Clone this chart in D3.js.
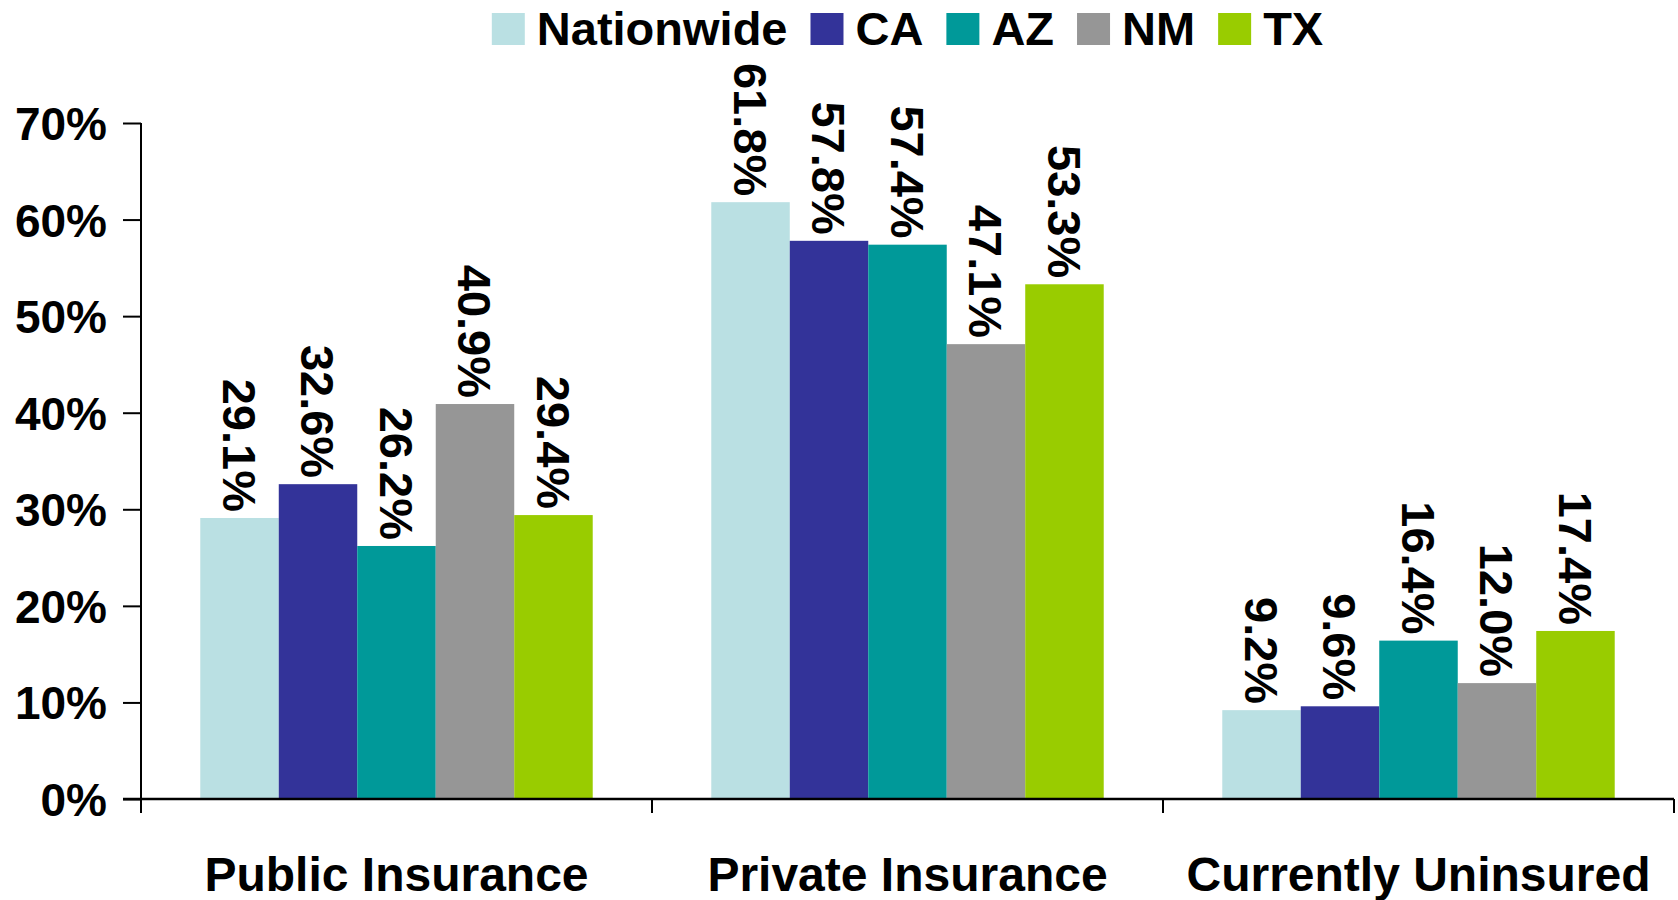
<!DOCTYPE html>
<html>
<head>
<meta charset="utf-8">
<script src="https://cdn.jsdelivr.net/npm/d3@7"></script>
<style>
  body { margin: 0; background: #fff; }
  text { font-family: "Liberation Sans", Arial, sans-serif; font-weight: bold; fill: #000; }
</style>
</head>
<body>
<svg id="chart" width="1678" height="900"></svg>
<script>
// data
const categories = ["Public Insurance", "Private Insurance", "Currently Uninsured"];
const seriesNames = ["Nationwide", "CA", "AZ", "NM", "TX"];
const seriesColors = ["#bae0e3", "#333399", "#009999", "#969696", "#99cc00"];
const nationwide = [29.1, 61.8, 9.2];
const ca = [32.6, 57.8, 9.6];
const az = [26.2, 57.4, 16.4];
const nm = [40.9, 47.1, 12.0];
const tx = [29.4, 53.3, 17.4];
const yTicks = [0, 10, 20, 30, 40, 50, 60, 70];

const seriesValues = [nationwide, ca, az, nm, tx];

const svg = d3.select('#chart');
const plotLeft = 141, plotRight = 1674, plotTop = 123, plotBottom = 799;

const x0 = d3.scaleBand()
    .domain(categories)
    .range([plotLeft, plotRight])
    .padding(0);
const bw = x0.bandwidth();
const x1 = d3.scaleBand()
    .domain(seriesNames)
    .range([bw * 0.116, bw * 0.884])
    .padding(0);
const y = d3.scaleLinear()
    .domain([0, 70])
    .range([plotBottom, plotTop]);

// bars
const groups = svg.selectAll('g.cat')
    .data(categories)
    .join('g')
    .attr('class', 'cat')
    .attr('transform', d => `translate(${x0(d)},0)`);

groups.each(function(cat, ci) {
    const g = d3.select(this);
    const rows = seriesNames.map((s, si) => ({ s, v: seriesValues[si][ci], c: seriesColors[si] }));
    g.selectAll('rect')
        .data(rows)
        .join('rect')
        .attr('x', d => x1(d.s))
        .attr('y', d => y(d.v))
        .attr('width', x1.bandwidth())
        .attr('height', d => y(0) - y(d.v))
        .attr('fill', d => d.c);
    g.selectAll('text.val')
        .data(rows)
        .join('text')
        .attr('class', 'val')
        .attr('transform', d => `translate(${x1(d.s) + x1.bandwidth() / 2},${y(d.v) - 6}) rotate(90)`)
        .attr('text-anchor', 'end')
        .attr('dy', '0.36em')
        .style('font-size', '47px')
        .text(d => d.v.toFixed(1) + '%');
});

// y axis
const yAxis = svg.append('g')
    .attr('transform', `translate(${plotLeft},0)`)
    .call(d3.axisLeft(y).tickValues(yTicks).tickFormat(d => d + '%').tickSize(18).tickSizeOuter(0).tickPadding(16));
yAxis.select('.domain').remove();
yAxis.selectAll('.tick line').attr('stroke', '#000').attr('stroke-width', 2);
yAxis.selectAll('.tick text')
    .style('font-size', '46px')
    .style('font-family', '"Liberation Sans", Arial, sans-serif')
    .style('font-weight', 'bold')
    .attr('fill', '#000')
    .attr('dy', '0.36em');
svg.append('line')
    .attr('x1', plotLeft).attr('x2', plotLeft)
    .attr('y1', plotTop).attr('y2', plotBottom + 14)
    .attr('stroke', '#000').attr('stroke-width', 2);

// x axis
svg.append('line')
    .attr('x1', plotLeft - 18).attr('x2', plotRight)
    .attr('y1', plotBottom).attr('y2', plotBottom)
    .attr('stroke', '#000').attr('stroke-width', 2.5);
svg.selectAll('line.sep')
    .data(categories)
    .join('line')
    .attr('class', 'sep')
    .attr('x1', d => x0(d) + bw).attr('x2', d => x0(d) + bw)
    .attr('y1', plotBottom).attr('y2', plotBottom + 14)
    .attr('stroke', '#000').attr('stroke-width', 2);
svg.selectAll('text.catlabel')
    .data(categories)
    .join('text')
    .attr('class', 'catlabel')
    .attr('x', d => x0(d) + bw / 2)
    .attr('y', 891)
    .attr('text-anchor', 'middle')
    .style('font-size', '48px')
    .text(d => d);

// legend
const legend = svg.append('g');
let lx = 0;
seriesNames.forEach((s, i) => {
    const item = legend.append('g').attr('transform', `translate(${lx},0)`);
    item.append('rect')
        .attr('x', 0).attr('y', 13)
        .attr('width', 33).attr('height', 32)
        .attr('fill', seriesColors[i]);
    const t = item.append('text')
        .attr('x', 45).attr('y', 45)
        .style('font-size', '47px')
        .text(s);
    lx += 45 + t.node().getComputedTextLength() + 23;
});
const legendWidth = lx - 23;
legend.attr('transform', `translate(${(plotLeft + plotRight) / 2 - legendWidth / 2},0)`);
</script>
</body>
</html>
